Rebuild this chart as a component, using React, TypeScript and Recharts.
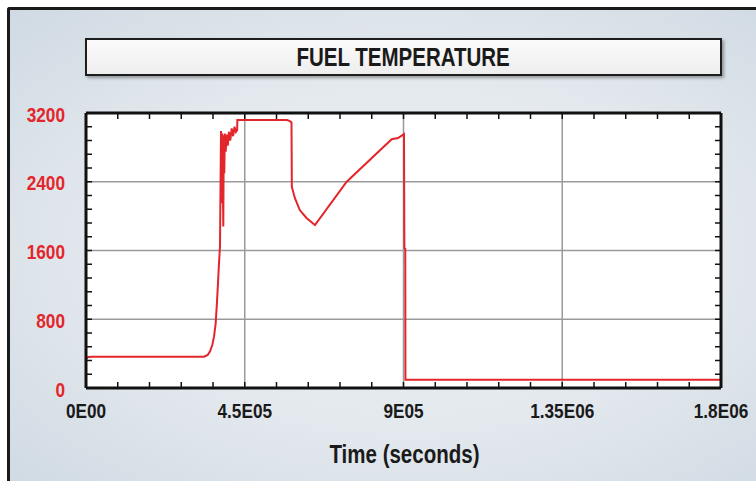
import { CartesianGrid, Line, LineChart, XAxis, YAxis } from 'recharts';

// time (s) and fuel temperature
const times = [
  0, 6000, 18000, 335000, 345000, 352000, 358000, 363000, 367500, 371300,
  374500, 377000, 379800, 382700, 384500, 386000, 387500, 389200, 390500, 392000,
  393500, 396000, 399000, 402000, 405000, 409000, 413000, 417000, 421000, 425000,
  428500, 429000, 570000, 578000, 582500, 583500, 592000, 606000, 625000, 649000,
  739000, 866500, 884400, 901400, 902500, 905000, 905500, 1800000,
];
const temps = [
  345, 360, 365, 365, 385, 430, 500, 600, 750, 1000,
  1250, 1450, 1650, 2990, 2150, 2960, 2600, 1880, 2940, 2500,
  2960, 2750, 2950, 2820, 2980, 2880, 3020, 2930, 3040, 2980,
  3000, 3118, 3118, 3105, 3090, 2340, 2211, 2071, 1978, 1897,
  2400, 2894, 2909, 2955, 1629, 1620, 95, 95,
];

const xMajor = [0, 450000, 900000, 1350000, 1800000];
const xLabels = ['0E00', '4.5E05', '9E05', '1.35E06', '1.8E06'];
const yMajor = [0, 800, 1600, 2400, 3200];
const yLabels = ['0', '800', '1600', '2400', '3200'];
const xMinor = Array.from({ length: 21 }, (_, i) => i * 90000);
const yMinor = Array.from({ length: 21 }, (_, i) => i * 160);

const data = times.map((t, i) => ({ t, temp: temps[i] }));

const FONT = "'Liberation Sans', Arial, sans-serif";
const RED = '#e3262b';
const SQUEEZE = 0.82; // narrow face is not installed, so squeeze the regular bold

function XTick(props: any) {
  const { x, y, payload } = props;
  const label = xLabels[xMajor.indexOf(payload.value)];
  return (
    <text transform={`translate(${x} ${y}) scale(${SQUEEZE} 1)`} x={0} y={0} textAnchor="middle"
      dominantBaseline="central" fontFamily={FONT} fontWeight="bold" fontSize={21} fill="#1a1a1a">
      {label}
    </text>
  );
}

function YTick(props: any) {
  const { x, y, payload } = props;
  const label = yLabels[yMajor.indexOf(payload.value)];
  return (
    <text transform={`translate(${x} ${y + 1.5}) scale(${SQUEEZE} 1)`} x={0} y={0} textAnchor="end"
      dominantBaseline="central" fontFamily={FONT} fontWeight="bold" fontSize={21} fill={RED}>
      {label}
    </text>
  );
}

const noLabel = () => <g />;
const tickLine = { stroke: '#111', strokeWidth: 1.5 };
const axisLine = { stroke: '#111', strokeWidth: 3 };

export default function App() {
  return (
    <div style={{ position: 'absolute', left: 0, top: 0, width: 756, height: 481, background: '#fff', overflow: 'hidden' }}>
      <div
        style={{
          position: 'absolute', left: 7, top: 7, width: 760, height: 480,
          borderLeft: '3px solid #1a1a1a', borderTop: '3px solid #1a1a1a',
          borderTopLeftRadius: 3,
          background: 'radial-gradient(ellipse at 52% 50%, #eef1f4 0%, #e2e8ed 55%, #d0dae3 100%)',
        }}
      />
      <div
        style={{
          position: 'absolute', left: 85, top: 38, width: 637, height: 38, boxSizing: 'border-box',
          border: '2px solid #1e1e1e', background: 'linear-gradient(#fbfbfb, #eeeeee)',
          boxShadow: '2px 2px 3px rgba(0,0,0,0.35)', display: 'flex', alignItems: 'center',
          justifyContent: 'center', fontFamily: FONT, fontWeight: 'bold', fontSize: 25, color: '#1a1a1a',
        }}
      >
        <span style={{ display: 'inline-block', transform: `scaleX(${SQUEEZE})` }}>FUEL TEMPERATURE</span>
      </div>
      <div style={{ position: 'absolute', left: 0, top: 0 }}>
        <LineChart width={756} height={481} data={data} margin={{ top: 113, right: 35, bottom: 63, left: 36 }}>
          <CartesianGrid fill="#ffffff" fillOpacity={1} stroke="#9a9a9a" strokeWidth={1.5} />
          <XAxis xAxisId={0} dataKey="t" type="number" domain={[0, 1800000]} ticks={xMajor}
            interval={0} height={30} axisLine={false} tickLine={false} tickSize={0} tickMargin={23}
            tick={<XTick />} />
          <XAxis xAxisId="bm" dataKey="t" type="number" domain={[0, 1800000]} allowDataOverflow ticks={xMinor}
            interval={0} mirror height={10} tick={noLabel} tickSize={6} tickLine={tickLine} axisLine={axisLine} />
          <XAxis xAxisId="tm" dataKey="t" orientation="top" type="number" domain={[0, 1800000]} allowDataOverflow
            ticks={xMinor} interval={0} mirror height={10} tick={noLabel} tickSize={6} tickLine={tickLine}
            axisLine={axisLine} />
          <YAxis yAxisId={0} type="number" domain={[0, 3200]} ticks={yMajor} interval={0} width={50}
            axisLine={false} tickLine={false} tickSize={0} tickMargin={21} tick={<YTick />} />
          <YAxis yAxisId="lm" type="number" domain={[0, 3200]} allowDataOverflow ticks={yMinor} interval={0}
            mirror width={10} tick={noLabel} tickSize={6} tickLine={tickLine} axisLine={axisLine} />
          <YAxis yAxisId="rm" orientation="right" type="number" domain={[0, 3200]} allowDataOverflow
            ticks={yMinor} interval={0} mirror width={10} tick={noLabel} tickSize={6} tickLine={tickLine}
            axisLine={axisLine} />
          <Line xAxisId={0} yAxisId={0} type="linear" dataKey="temp" stroke={RED} strokeWidth={2}
            dot={false} activeDot={false} isAnimationActive={false} />
        </LineChart>
      </div>
      <div
        style={{
          position: 'absolute', left: 304, width: 200, top: 439, height: 30, textAlign: 'center',
          lineHeight: '30px', fontFamily: FONT, fontWeight: 'bold', fontSize: 25, color: '#1a1a1a',
        }}
      >
        <span style={{ display: 'inline-block', transform: `scaleX(${SQUEEZE})` }}>Time (seconds)</span>
      </div>
    </div>
  );
}
